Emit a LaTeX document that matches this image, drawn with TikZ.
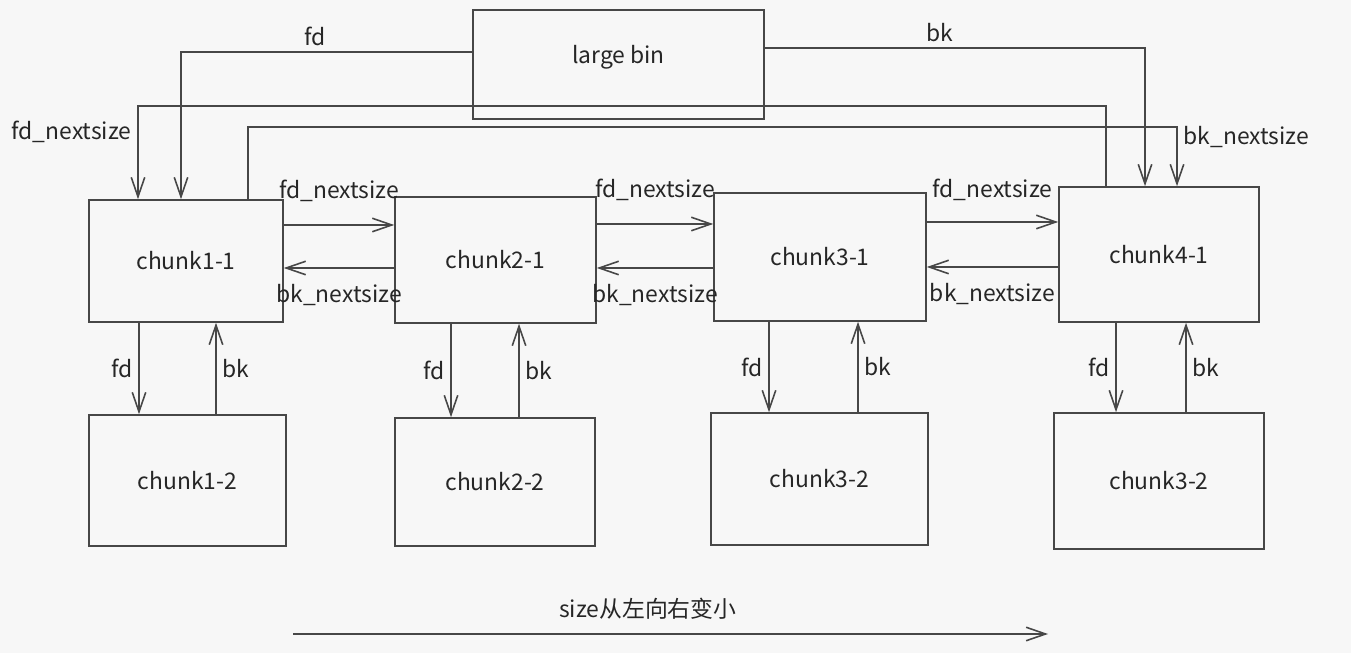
\documentclass[tikz,border=0pt]{standalone}
\usepackage{fontspec}
\setmainfont{Noto Sans CJK SC}
\usepackage{xcolor}
\usepackage{tikz}
\usetikzlibrary{positioning, arrows.meta}

\begin{document}
\begin{tikzpicture}[
      box/.style={draw=black!72, line width=0.9pt, inner sep=0pt,
        font=\fontsize{13}{15}\selectfont, text=black!85},
      arr/.style={-{Straight Barb[length=3.9mm, width=2.7mm]},
        draw=black!72, line width=0.9pt},
      lbl/.style={font=\fontsize{13}{15}\selectfont, text=black!85}
    ]
    \useasboundingbox[fill=black!3] (0,0) rectangle (27.02,-13.06);
    % bin and the first chunk of each size
    \node[box, minimum width=5.82cm, minimum height=2.18cm] (bin) at (12.37,-1.29) {};
    \node[lbl] (binlbl) at (12.37,-1.14) {large bin};
    \node[box, minimum width=3.88cm, minimum height=2.44cm] (c11) at (3.72,-5.22) {chunk1-1};
    \node[box, minimum width=4.02cm, minimum height=2.52cm] (c21) at (9.91,-5.20) {chunk2-1};
    \node[box, minimum width=4.24cm, minimum height=2.56cm] (c31) at (16.40,-5.14) {chunk3-1};
    \node[box, minimum width=4.00cm, minimum height=2.70cm] (c41) at (23.18,-5.09) {chunk4-1};
    % second chunk of each size
    \node[box, minimum width=3.94cm, minimum height=2.62cm] (c12) at (3.75,-9.61) {chunk1-2};
    \node[box, minimum width=4.00cm, minimum height=2.56cm] (c22) at (9.90,-9.64) {chunk2-2};
    \node[box, minimum width=4.34cm, minimum height=2.64cm] (c32) at (16.39,-9.58) {chunk3-2};
    \node[box, minimum width=4.20cm, minimum height=2.72cm] (c42) at (23.18,-9.62) {chunk3-2};

    % large bin links
    \draw[arr] ([yshift=2.5mm]bin.west) -| ([xshift=-1mm]c11.north)
      node[lbl, pos=0.27, above]{fd};
    \draw[arr] ([yshift=3.3mm]bin.east) -| ([xshift=-2.8mm]c41.north)
      node[lbl, pos=0.23, above]{bk};
    \draw[arr] ([xshift=-10.6mm]c41.north) -- ++(0,1.6) -| ([xshift=-9.6mm]c11.north)
      node[lbl, pos=0.64, left]{fd\_nextsize};
    \draw[arr] ([xshift=12.4mm]c11.north) -- ++(0,1.44) -| ([xshift=3.6mm]c41.north)
      node[lbl, pos=0.58, right]{bk\_nextsize};

    % nextsize list
    \draw[arr] ([yshift=7.2mm]c11.east) -- ([yshift=7mm]c21.west)
      node[lbl, midway, above=3.4mm]{fd\_nextsize};
    \draw[arr] ([yshift=-1.6mm]c21.west) -- ([yshift=-1.4mm]c11.east)
      node[lbl, midway, below=2mm]{bk\_nextsize};
    \draw[arr] ([yshift=7.2mm]c21.east) -- ([yshift=6.6mm]c31.west)
      node[lbl, midway, above=3.4mm]{fd\_nextsize};
    \draw[arr] ([yshift=-2.2mm]c31.west) -- ([yshift=-1.6mm]c21.east)
      node[lbl, midway, below=2mm]{bk\_nextsize};
    \draw[arr] ([yshift=7mm]c31.east) -- ([yshift=6.5mm]c41.west)
      node[lbl, midway, above=3mm]{fd\_nextsize};
    \draw[arr] ([yshift=-2.5mm]c41.west) -- ([yshift=-2mm]c31.east)
      node[lbl, midway, below=2mm]{bk\_nextsize};

    % same size list
    \draw[arr] ([xshift=-9.4mm]c11.south) -- ([xshift=-9.7mm]c12.north) node[lbl, midway, left]{fd};
    \draw[arr] ([xshift=5.7mm]c12.north) -- ([xshift=6mm]c11.south) node[lbl, midway, right]{bk};
    \draw[arr] ([xshift=-8.9mm]c21.south) -- ([xshift=-8.8mm]c22.north) node[lbl, midway, left]{fd};
    \draw[arr] ([xshift=4.8mm]c22.north) -- ([xshift=4.7mm]c21.south) node[lbl, midway, right]{bk};
    \draw[arr] ([xshift=-10.2mm]c31.south) -- ([xshift=-10.1mm]c32.north) node[lbl, midway, left]{fd};
    \draw[arr] ([xshift=7.7mm]c32.north) -- ([xshift=7.6mm]c31.south) node[lbl, midway, right]{bk};
    \draw[arr] ([xshift=-8.6mm]c41.south) -- ([xshift=-8.6mm]c42.north) node[lbl, midway, left]{fd};
    \draw[arr] ([xshift=5.4mm]c42.north) -- ([xshift=5.4mm]c41.south) node[lbl, midway, right]{bk};

    % size order
    \coordinate (sl) at (5.86,-12.68);
    \coordinate (sr) at (20.96,-12.68);
    \draw[arr] (sl) -- (sr) node[lbl, pos=0.47, above=1.5mm]{size从左向右变小};
  \end{tikzpicture}
\end{document}
